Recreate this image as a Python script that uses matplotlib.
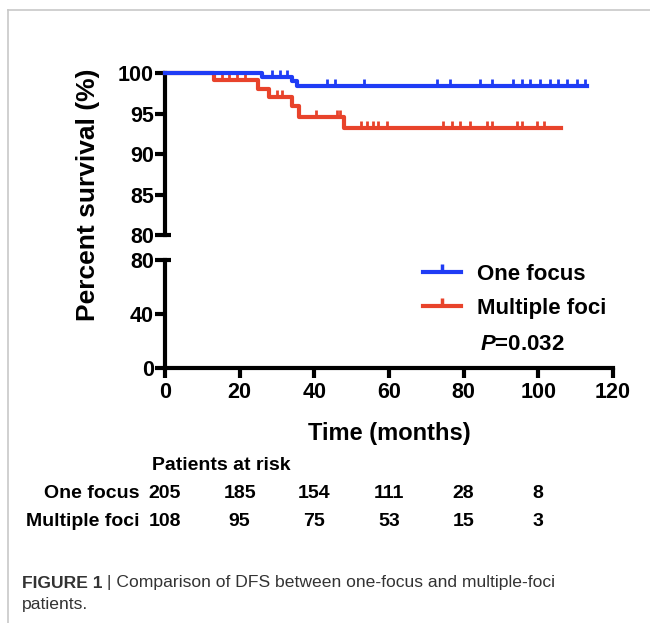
import numpy as np
import matplotlib.pyplot as plt
import matplotlib.transforms as mtransforms
from matplotlib.lines import Line2D

plt.rcParams['font.family'] = ['Liberation Sans', 'DejaVu Sans']
plt.rcParams['font.weight'] = 'bold'
plt.rcParams['mathtext.fontset'] = 'custom'
plt.rcParams['mathtext.it'] = 'Liberation Sans:italic:bold'
plt.rcParams['mathtext.rm'] = 'Liberation Sans:bold'

# survival steps (months, %)
one_t = [0, 26, 34, 35.5, 113]
one_s = [100, 99.5, 99.0, 98.4, 98.4]
multi_t = [0, 13, 25, 28, 34, 36, 48, 106]
multi_s = [100, 99.1, 98.0, 97.0, 95.9, 94.6, 93.2, 93.2]
# censored times
one_cens = [28.6, 30.8, 32.7, 43.5, 45.6, 53.3, 73, 76.4, 84.5, 87.7, 93.3,
             95.7, 97.9, 100.5, 103.2, 105.4, 107.8, 110.5, 112.6]
multi_cens = [15.2, 17.2, 19.2, 21.4, 30, 31.3, 40.5, 46, 47, 52.5, 54.1,
               55.8, 57.1, 59.4, 74.5, 76.9, 79.1, 81.8, 86.2, 87.6, 94.3,
               95.6, 99.6, 101.4]

# numbers at risk
risk_times = [0, 20, 40, 60, 80, 100]
risk_one = [205, 185, 154, 111, 28, 8]
risk_multi = [108, 95, 75, 53, 15, 3]
groups = ['One focus', 'Multiple foci']

blue = '#1f3cf5'
red = '#e8432b'
lw = 3


def at(times, surv, t):
    i = np.searchsorted(times, t, side='right') - 1
    return np.array(surv)[i]


fig = plt.figure(figsize=(6.5, 6.23), dpi=100)

# frame lines of the figure panel
fig.add_artist(Line2D([8/650, 8/650], [0, 1 - 10/623], color='#c8c8c8', lw=1.2))
fig.add_artist(Line2D([8/650, 1], [1 - 10/623, 1 - 10/623], color='#c8c8c8', lw=1.2))

ax1 = fig.add_axes([0.2538, 0.6228, 0.6892, 0.2600])
ax2 = fig.add_axes([0.2538, 0.4093, 0.6892, 0.1734])

#upper part
ax1.step(multi_t, multi_s, where='post', color=red, lw=lw, clip_on=False, zorder=3)
ax1.plot(multi_cens, at(multi_t, multi_s, multi_cens), ls='none', marker=2,
         ms=5, mew=2, color=red, clip_on=False, zorder=3)
ax1.step(one_t, one_s, where='post', color=blue, lw=lw, clip_on=False, zorder=4)
ax1.plot(one_cens, at(one_t, one_s, one_cens), ls='none', marker=2,
         ms=5, mew=2, color=blue, clip_on=False, zorder=4)
ax1.set_xlim(0, 120)
ax1.set_ylim(80, 100)
ax1.set_yticks([80, 85, 90, 95, 100])
ax1.set_xticks([])
for s in ['top', 'right', 'bottom']:
    ax1.spines[s].set_visible(False)

#lower part
ax2.set_xlim(0, 120)
ax2.set_ylim(0, 80)
ax2.set_yticks([0, 40, 80])
ax2.set_xticks([0, 20, 40, 60, 80, 100, 120])
for s in ['top', 'right']:
    ax2.spines[s].set_visible(False)

for ax in (ax1, ax2):
    for s in ['left', 'bottom']:
        ax.spines[s].set_linewidth(lw)
    ax.tick_params(width=lw, length=7, pad=1, labelsize=15.5)
    # caps at the axis break
    ax.set_yticks([80], minor=True)
    ax.yaxis.remove_overlapping_locs = False
    ax.tick_params(axis='y', which='minor', direction='in', length=4, width=lw)
ax2.tick_params(axis='x', pad=3)

fig.text(88/650, 1 - 195/623, 'Percent survival (%)', rotation=90,
         ha='center', va='center', fontsize=19)
ax2.set_xlabel('Time (months)', fontsize=17, weight='bold', labelpad=14)

handles = [Line2D([], [], color=blue, lw=lw, marker=2, ms=6, mew=2.5),
           Line2D([], [], color=red, lw=lw, marker=2, ms=6, mew=2.5)]
ax2.legend(handles, groups, loc='upper left', bbox_to_anchor=(0.576, 0.965),
           frameon=False, fontsize=16, handlelength=1.7, handletextpad=0.75,
           labelspacing=0.58, borderpad=0, borderaxespad=0, numpoints=1)
ax2.text(84.4, 17.5, r'$\mathit{P}$=0.032', fontsize=16, va='center')

# risk table
tr = mtransforms.blended_transform_factory(ax2.transData, fig.transFigure)
fig.text(152/650, 1 - 466/623, 'Patients at risk', fontsize=14, va='center')
for k, (name, vals) in enumerate(zip(groups, [risk_one, risk_multi])):
    yy = 1 - (493 + 28*k)/623
    fig.text(140/650, yy, name, fontsize=14, ha='right', va='center')
    for t, v in zip(risk_times, vals):
        ax2.text(t, yy, str(v), transform=tr, fontsize=14, ha='center', va='center')

# caption
cap = fig.text(22/650, 1 - 583/623, 'FIGURE 1', fontsize=12.6, color='#333333',
               va='center', weight='bold')
ax2.annotate(' | Comparison of DFS between one-focus and multiple-foci',
             xy=(1, 0.5), xycoords=cap, va='center', ha='left',
             fontsize=12.6, color='#333333', weight='normal', annotation_clip=False)
fig.text(22/650, 1 - 605/623, 'patients.', fontsize=12.6, color='#333333',
         va='center', weight='normal')

fig.savefig('out.png', dpi=100)
